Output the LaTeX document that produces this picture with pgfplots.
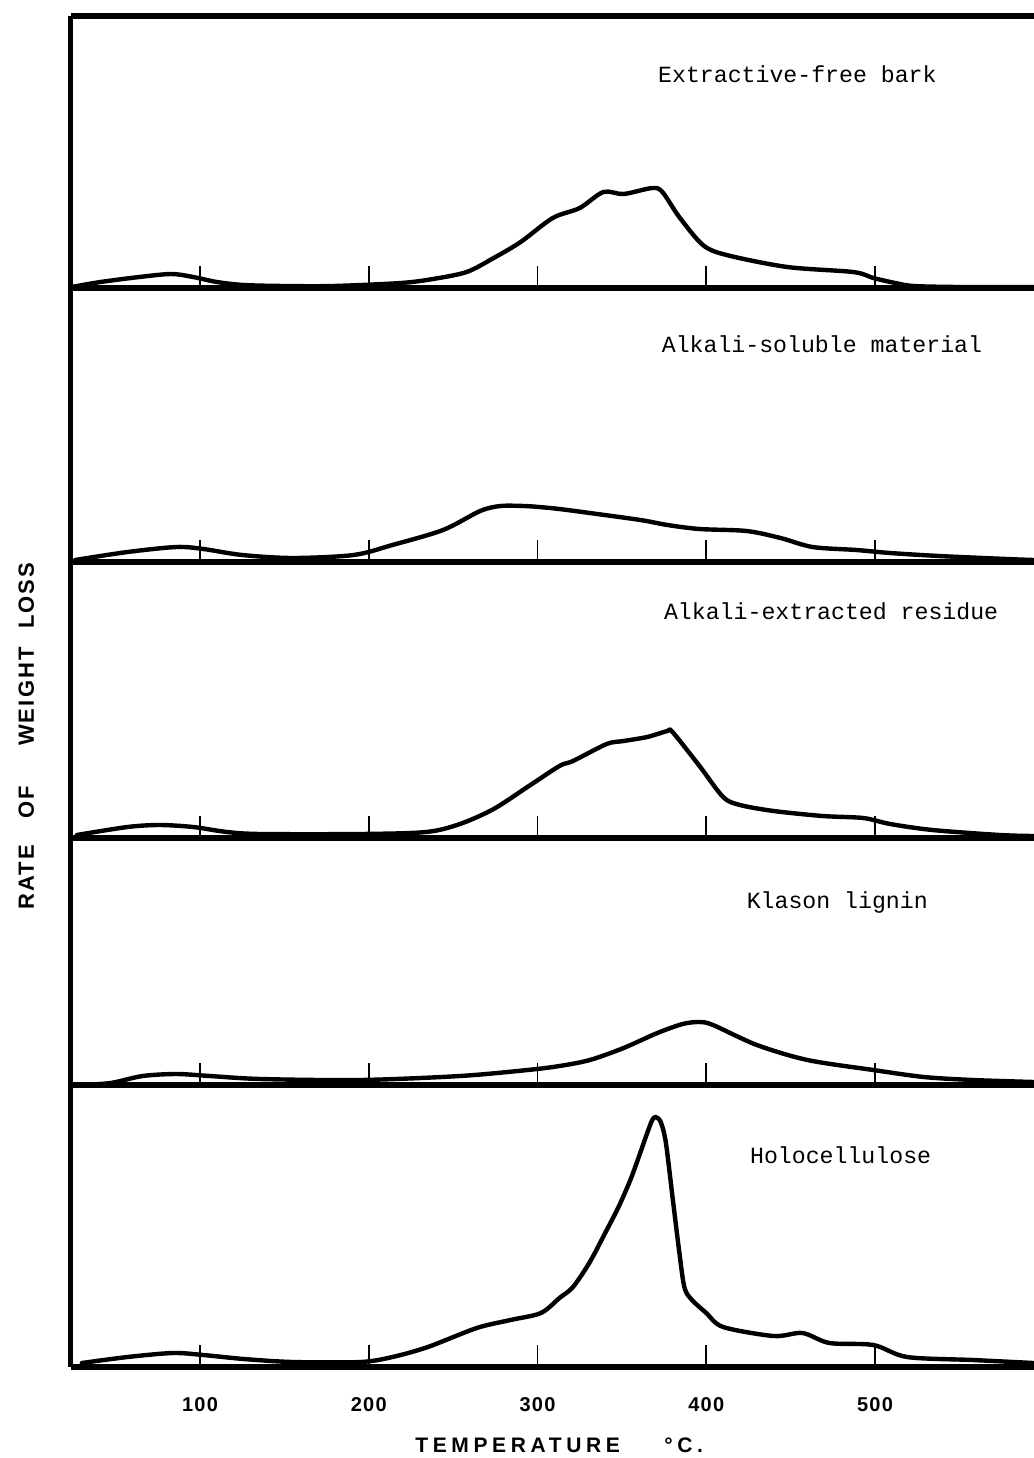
\documentclass[border=0pt]{standalone}
\usepackage{fontspec}
\setmainfont{Liberation Sans}
\setmonofont{Liberation Mono}
\newfontfamily\ylabfont[LetterSpace=10]{Liberation Sans}
\newfontfamily\xlabfont[LetterSpace=22]{Liberation Sans}
\newfontfamily\ticklabfont[LetterSpace=6]{Liberation Sans}
\usepackage{pgfplots}
\pgfplotsset{compat=1.18}

\newcommand{\lbl}{\ttfamily\fontsize{11.6pt}{14pt}\selectfont}

\pgfplotsset{
  panel/.style={
    scale only axis, width=481.5pt,
    xmin=23.56, xmax=594.2, ymin=0,
    anchor=south west,
    axis x line*=bottom, axis y line*=left,
    x axis line style={line width=3pt, -},
    y axis line style={line width=2.5pt, -},
    xtick={100,200,300,400,500}, ytick=\empty,
    tick align=inside, major tick length=11pt,
    every tick/.style={black, line width=0.8pt},
    xticklabels={},
    clip=false,
  },
  curve/.style={black, line width=2.2pt, smooth, tension=0.5, line join=round, line cap=round, no marks},
}

\begin{document}
\begin{tikzpicture}
\path[use as bounding box] (0pt,0pt) rectangle (517pt,-729pt);

% Panel 1: Extractive-free bark
\begin{axis}[panel, at={(35.5pt,-144pt)}, height=136pt, ymax=272]
\addplot[curve] coordinates {
(24,1) (41,6) (64,11) (83,14) (96,11) (110,6) (126,3) (150,2) (179,2)
(219,5) (238,9) (258,16) (274,30) (290,46) (309,70) (325,80) (339,96)
(351,94) (368,100) (374,96) (384,71) (398,43) (412,33) (448,21) (487,16)
(499,10) (512,5) (523,2) (550,1) (594,1)};
\draw[line width=3pt] (rel axis cs:0,1) -- (rel axis cs:1,1);
\node[anchor=base west, font=\lbl] at (axis cs:367.3,206) {Extractive-free bark};
\end{axis}

% Panel 2: Alkali-soluble material
\begin{axis}[panel, at={(35.5pt,-281pt)}, height=137pt, ymax=274]
\addplot[curve] coordinates {
(26,2) (57,10) (86,15) (102,13) (125,7) (155,4) (191,7) (214,17) (244,32)
(266,51) (278,56) (292,56) (301,55) (313,53) (331,49) (361,42) (377,37)
(396,33) (424,31) (444,24) (463,15) (489,12) (509,9) (538,6) (578,3) (594,2)};
\node[anchor=base west, font=\lbl] at (axis cs:369.5,210) {Alkali-soluble material};
\end{axis}

% Panel 3: Alkali-extracted residue
\begin{axis}[panel, at={(35.5pt,-419pt)}, height=138pt, ymax=276]
\addplot[curve] coordinates {
(27,3) (57,11) (76,13) (96,11) (116,6) (136,4) (195,4) (234,6) (254,14)
(274,29) (294,51) (313,72) (321,77) (341,94) (351,97) (365,101) (377,107)
(380,106) (396,72) (410,41) (420,33) (440,27) (469,22) (493,20) (509,14)
(534,8) (574,3) (594,2)};
\node[anchor=base west, font=\lbl] at (axis cs:370.8,219) {Alkali-extracted residue};
\end{axis}

% Panel 4: Klason lignin
\begin{axis}[panel, at={(35.5pt,-542.5pt)}, height=123.5pt, ymax=247]
\addplot[curve] coordinates {
(29,0) (47,2) (66,9) (86,11) (106,9) (136,6) (195,5) (254,9) (294,15)
(313,19) (331,25) (351,37) (371,52) (386,61) (396,63) (404,60) (430,40)
(460,25) (499,15) (529,8) (558,5) (594,3)};
\node[anchor=base west, font=\lbl] at (axis cs:419.8,177) {Klason lignin};
\end{axis}

% Panel 5: Holocellulose
\begin{axis}[panel, at={(35.5pt,-683.5pt)}, height=141pt, ymax=282,
  xticklabels={100,200,300,400,500},
  xticklabel style={font=\ticklabfont\bfseries\fontsize{10pt}{12pt}\selectfont, yshift=-11.5pt}]
\addplot[curve] coordinates {
(30,4) (57,10) (84,14) (102,12) (126,8) (155,5) (195,5) (214,10) (235,20)
(264,39) (284,47) (302,54) (313,69) (321,80) (331,105) (341,137) (348,160)
(355,187) (360,210) (365,234) (368,247) (370,250) (373,245) (376,225)
(380,170) (384,115) (387,80) (391,68) (400,54) (410,40) (440,31) (457,34)
(473,24) (499,22) (519,10) (558,7) (594,4)};
\node[anchor=base west, font=\lbl] at (axis cs:421.8,204) {Holocellulose};
\end{axis}

% axis titles
\node[rotate=90, font=\ylabfont\bfseries\fontsize{11pt}{13pt}\selectfont] at (13.2pt,-368pt)
  {RATE\hspace{13pt}OF\hspace{20pt}WEIGHT\hspace{9pt}LOSS};
\node[anchor=base west, inner sep=0pt, font=\xlabfont\bfseries\fontsize{10.5pt}{12pt}\selectfont] at (207.5pt,-726pt) {TEMPERATURE};
\node[anchor=base west, inner sep=0pt, font=\xlabfont\bfseries\fontsize{10.5pt}{12pt}\selectfont] at (332pt,-726pt) {°C.};
\end{tikzpicture}
\end{document}
